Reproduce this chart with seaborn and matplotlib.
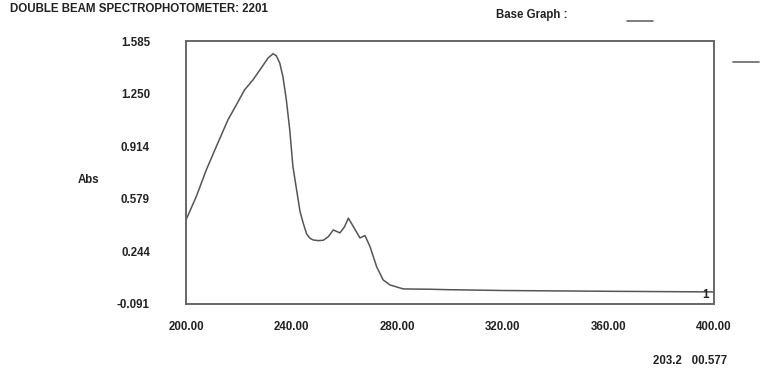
import matplotlib
matplotlib.use("Agg")
import matplotlib.pyplot as plt
import seaborn as sns
import pandas as pd

# ---- data ----
wavelength = [200.0, 203.9, 207.7, 211.5, 215.9, 219.1, 222.2, 225.4, 228.5, 231.1,
              233.0, 234.2, 235.5, 236.7, 238.0, 239.3, 240.5, 241.9, 243.2, 244.4,
              245.7, 247.0, 248.2, 250.0, 252.0, 253.9, 255.8, 257.0, 258.3, 260.0,
              261.5, 263.4, 265.9, 267.8, 269.7, 272.2, 274.7, 277.3, 282.3, 292.4,
              300, 320, 360, 400]
absorbance = [0.445, 0.594, 0.764, 0.913, 1.083, 1.179, 1.274, 1.338, 1.413, 1.477,
              1.504, 1.491, 1.445, 1.359, 1.211, 1.019, 0.785, 0.636, 0.498, 0.424,
              0.355, 0.327, 0.317, 0.313, 0.315, 0.338, 0.381, 0.372, 0.362, 0.400,
              0.456, 0.402, 0.330, 0.345, 0.275, 0.147, 0.062, 0.030, 0.005, 0.003,
              0.000, -0.005, -0.010, -0.014]
y_ticks = [1.585, 1.250, 0.914, 0.579, 0.244, -0.091]
y_labels = ["1.585", "1.250", "0.914", "0.579", "0.244", "-0.091"]
x_ticks = [200, 240, 280, 320, 360, 400]
x_labels = ["200.00", "240.00", "280.00", "320.00", "360.00", "400.00"]
title = "DOUBLE BEAM SPECTROPHOTOMETER: 2201"
base_label = "Base Graph :"
y_name = "Abs"
cursor_text = "203.2   00.577"
trace_id = "1"

sns.set_style("white")
plt.rcParams["font.family"] = ["Liberation Sans", "DejaVu Sans"]
plt.rcParams["font.weight"] = "bold"

df = pd.DataFrame({"wl": wavelength, "A": absorbance})

fig = plt.figure(figsize=(7.65, 3.74), dpi=100)
ax = fig.add_axes([186 / 765, 1 - 304 / 374, (714 - 186) / 765, (304 - 41) / 374])

sns.lineplot(data=df, x="wl", y="A", ax=ax, color="#555555", linewidth=1.1,
             estimator=None)

ax.set_xlim(200, 400)
ax.set_ylim(-0.091, 1.585)
ax.set_xticks(x_ticks)
ax.set_xticklabels(x_labels)
ax.set_yticks(y_ticks)
ax.set_yticklabels(y_labels)
ax.set_xlabel("")
ax.set_ylabel("")

for s in ax.spines.values():
    s.set_visible(True)
    s.set_color("#666666")
    s.set_linewidth(1.4)

ax.tick_params(axis="x", direction="out", length=4, width=1, color="#666666",
               pad=8, labelsize=8.3, labelcolor="#222222")
ax.tick_params(axis="y", direction="out", length=2, width=1, color="#888888",
               pad=24, labelsize=8.3, labelcolor="#222222")
for lab in ax.get_xticklabels() + ax.get_yticklabels():
    lab.set_fontweight("bold")

ax.text(0.99, 0.01, trace_id, transform=ax.transAxes, ha="right", va="bottom",
        fontsize=8.3, fontweight="bold", color="#222222")

fig.text(10 / 765, 1 - 9 / 374, title, ha="left", va="center", fontsize=8.3,
         fontweight="bold", color="#222222")
fig.text(496 / 765, 1 - 15 / 374, base_label, ha="left", va="center", fontsize=8.3,
         fontweight="bold", color="#222222")
fig.add_artist(plt.Line2D([627 / 765, 653 / 765], [1 - 21 / 374, 1 - 21 / 374],
                          color="#666666", linewidth=1.2, transform=fig.transFigure))
fig.add_artist(plt.Line2D([733 / 765, 759 / 765], [1 - 62 / 374, 1 - 62 / 374],
                          color="#666666", linewidth=1.2, transform=fig.transFigure))
fig.text(89 / 765, 1 - 180 / 374, y_name, ha="center", va="center", fontsize=8.3,
         fontweight="bold", color="#222222")
fig.text(727 / 765, 1 - 361 / 374, cursor_text, ha="right", va="center", fontsize=8.3,
         fontweight="bold", color="#222222")

fig.savefig("out.png", dpi=100)
